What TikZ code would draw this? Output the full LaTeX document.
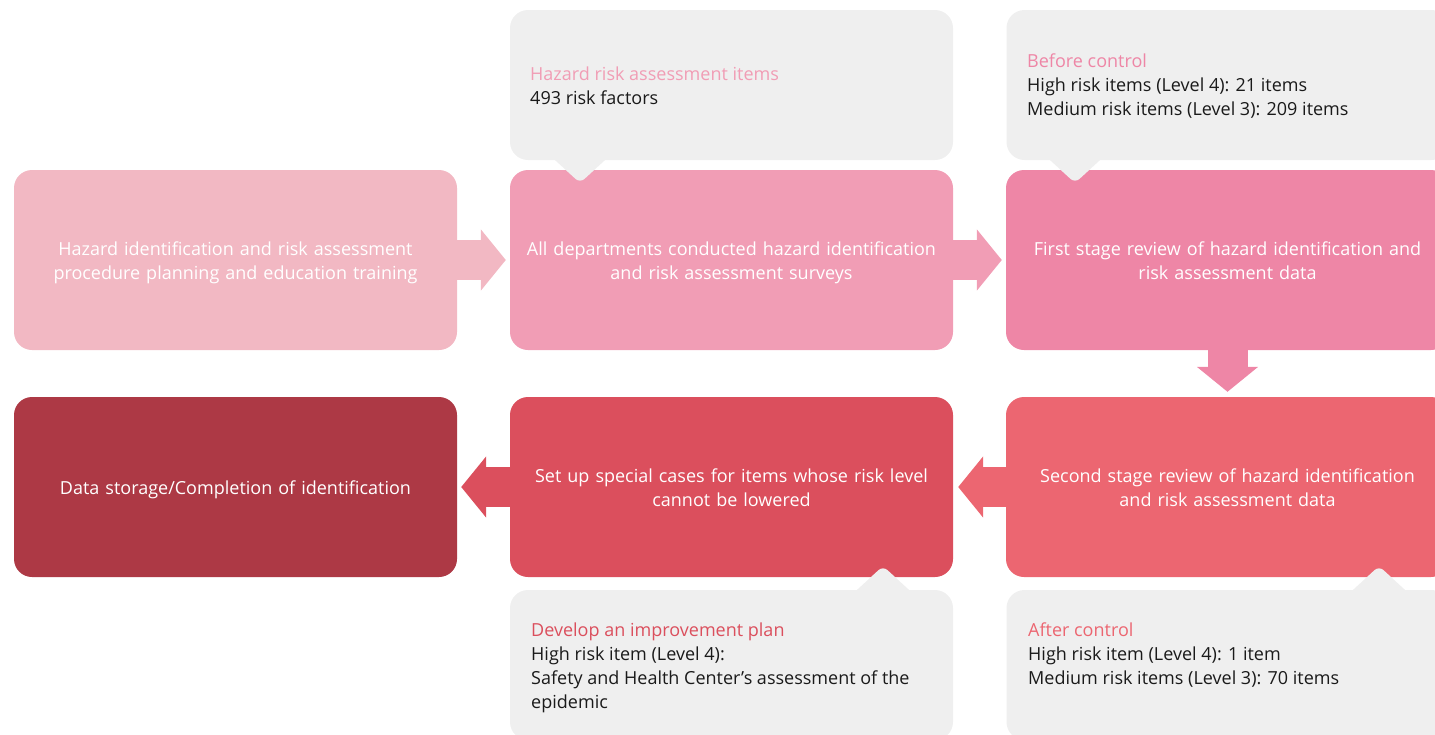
\documentclass[tikz,border=0pt]{standalone}
\usepackage{fontspec}
\setmainfont{Open Sans}
\usetikzlibrary{arrows.meta}

\definecolor{stageA}{HTML}{F2B8C3}
\definecolor{stageB}{HTML}{F19DB5}
\definecolor{stageC}{HTML}{EE86A6}
\definecolor{stageD}{HTML}{EC6671}
\definecolor{stageE}{HTML}{DB4F5D}
\definecolor{stageF}{HTML}{AD3945}
\definecolor{noteGray}{HTML}{EFEFEF}
\definecolor{noteInk}{HTML}{1A1A1A}

\begin{document}
\begin{tikzpicture}[x=1pt, y=-1pt,
  stage/.style={rounded corners=18pt, minimum width=443pt, minimum height=180pt,
    text width=428pt, align=center, text=white, font=\fontsize{18}{24}\selectfont,
    execute at begin node=\rule{0pt}{22.8pt}, execute at end node=\strut},
  note/.style={fill=noteGray, rounded corners=18pt, minimum width=443pt, minimum height=150pt},
  notetext/.style={anchor=north west, align=left, inner sep=0pt, text=noteInk,
    font=\fontsize{18}{24}\selectfont,
    execute at begin node=\strut, execute at end node=\strut},
  pin/.style={fill=noteGray, rounded corners=6pt},
  flow/.style={line width=40pt, -{Triangle[length=25pt, width=60pt]}}]
  \useasboundingbox (0,0) rectangle (1435,734);
  \clip (0,0) rectangle (1435,734);

  % process stages
  \node[stage, fill=stageA] (plan) at (235.5,260)
    {Hazard identification and risk assessment\\procedure planning and education training};
  \node[stage, fill=stageB] (survey) at (731.5,260)
    {All departments conducted hazard identification\\and risk assessment surveys};
  \node[stage, fill=stageC] (firstrev) at (1227.5,260)
    {First stage review of hazard identification and\\risk assessment data};
  \node[stage, fill=stageD] (secondrev) at (1227.5,487)
    {Second stage review of hazard identification\\and risk assessment data};
  \node[stage, fill=stageE] (special) at (731.5,487)
    {Set up special cases for items whose risk level\\cannot be lowered};
  \node[stage, fill=stageF] (done) at (235.5,487)
    {Data storage/Completion of identification};

  % notes
  \node[note] (itemsnote) at (731.5,85) {};
  \node[note] (beforenote) at (1228,85) {};
  \node[note] (plannote) at (731.5,665) {};
  \node[note] (afternote) at (1228,665) {};
  \fill[pin] (544,150) -- (580,183) -- (616,150) -- cycle;
  \fill[pin] (1039,150) -- (1075,183) -- (1111,150) -- cycle;
  \fill[pin] (846,600) -- (883,566) -- (920,600) -- cycle;
  \fill[pin] (1342,600) -- (1379,566) -- (1416,600) -- cycle;

  \node[notetext] (itemstext) at (530,67)
    {{\color{stageB}Hazard risk assessment items}\\493 risk factors};
  \node[notetext] (beforetext) at (1027,54)
    {{\color{stageC}Before control}\\High risk items (Level 4): 21 items\\Medium risk items (Level 3): 209 items};
  \node[notetext] (plantext) at (531,623)
    {{\color{stageE}Develop an improvement plan}\\High risk item (Level 4):\\Safety and Health Center’s assessment of the\\epidemic};
  \node[notetext] (aftertext) at (1028,623)
    {{\color{stageD}After control}\\High risk item (Level 4): 1 item\\Medium risk items (Level 3): 70 items};

  % flow arrows
  \draw[flow, draw=stageA, shorten >=4pt] (plan) -- (survey);
  \draw[flow, draw=stageB, shorten >=4pt] (survey) -- (firstrev);
  \draw[flow, draw=stageC, shorten >=5pt] (firstrev) -- (secondrev);
  \draw[flow, draw=stageD, shorten >=5pt] (secondrev) -- (special);
  \draw[flow, draw=stageE, shorten >=4pt] (special) -- (done);
\end{tikzpicture}
\end{document}
